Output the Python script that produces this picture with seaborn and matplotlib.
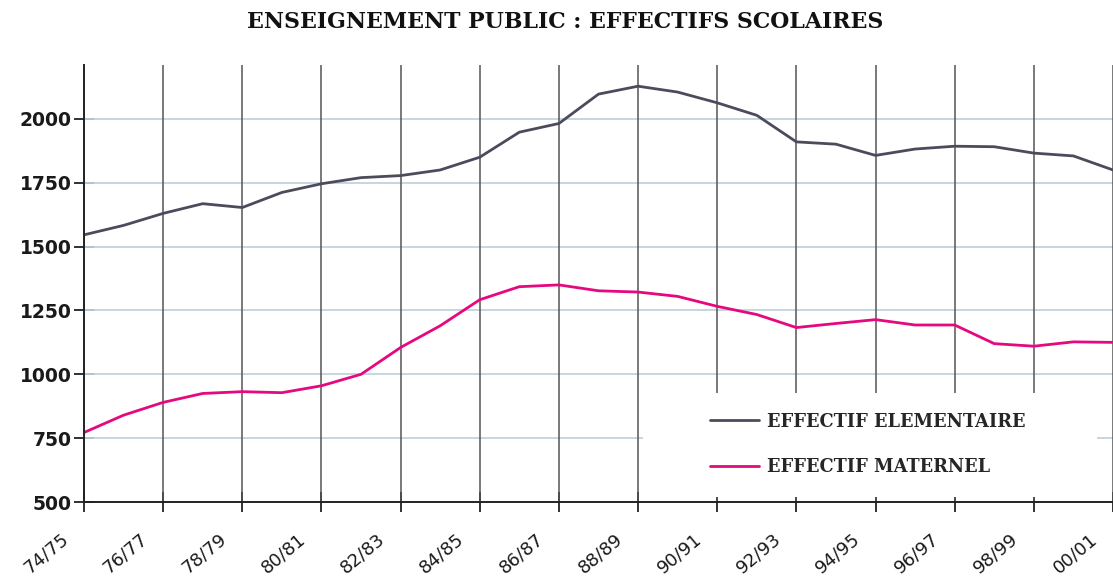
import matplotlib
matplotlib.use("Agg")
import matplotlib.pyplot as plt
import matplotlib.transforms as mtransforms
from matplotlib.patches import Rectangle
import pandas as pd
import seaborn as sns

# School years, one point per year
years = ["74/75", "75/76", "76/77", "77/78", "78/79", "79/80", "80/81", "81/82",
         "82/83", "83/84", "84/85", "85/86", "86/87", "87/88", "88/89", "89/90",
         "90/91", "91/92", "92/93", "93/94", "94/95", "95/96", "96/97", "97/98",
         "98/99", "99/00", "00/01"]

# Pupil counts
elementaire = [1546, 1583, 1630, 1668, 1653, 1712, 1746, 1770, 1778, 1800,
               1850, 1948, 1982, 2097, 2128, 2105, 2063, 2014, 1910, 1901,
               1857, 1882, 1893, 1891, 1866, 1855, 1800]
maternel = [772, 840, 890, 925, 932, 928, 955, 1000, 1105, 1190,
            1292, 1343, 1350, 1327, 1322, 1305, 1266, 1234, 1183, 1199,
            1214, 1193, 1193, 1120, 1110, 1127, 1125]

series_names = ["EFFECTIF ELEMENTAIRE", "EFFECTIF MATERNEL"]
series_colors = ["#4c4b5c", "#e5087f"]
tick_labels = years[::2]
y_ticks = [500, 750, 1000, 1250, 1500, 1750, 2000]
title = "ENSEIGNEMENT PUBLIC : EFFECTIFS SCOLAIRES"

df = pd.DataFrame({
    "pos": list(range(len(years))) * 2,
    "valeur": elementaire + maternel,
    "serie": [series_names[0]] * len(years) + [series_names[1]] * len(years),
})

sns.set_theme(style="white")
plt.rcParams["font.family"] = ["DejaVu Sans"]

fig = plt.figure(figsize=(11.13, 5.79), dpi=100)
W, H = 1113, 579
left, right, bottom, top = 84, 1113, 502, 65
ax = fig.add_axes([left / W, (H - bottom) / H, (right - left) / W, (bottom - top) / H])

sns.lineplot(data=df, x="pos", y="valeur", hue="serie", hue_order=series_names,
             palette=series_colors, linewidth=2.0, ax=ax, legend=True, zorder=3)

ax.set_xlim(0, 25.92)
ax.set_ylim(500, 2211)
ax.set_xlabel("")
ax.set_ylabel("")

# grid: dark verticals every two years, light horizontals every 250
for i in range(0, len(years), 2):
    ax.axvline(i, color="#555555", linewidth=1.1, zorder=1)
for v in y_ticks[1:]:
    ax.axhline(v, color="#c2d3dd", linewidth=1.3, zorder=0.8)

# blank panel behind the legend
ax.add_patch(Rectangle((0.543, 0.011), 0.441, 0.238, transform=ax.transAxes,
                       facecolor="white", edgecolor="none", zorder=2))

for s in ["top", "right"]:
    ax.spines[s].set_visible(False)
for s in ["left", "bottom"]:
    ax.spines[s].set_color("#222222")
    ax.spines[s].set_linewidth(1.4)
    ax.spines[s].set_zorder(4)

ax.set_yticks(y_ticks)
ax.set_yticklabels([str(v) for v in y_ticks], fontsize=13.5, fontweight="bold",
                   color="#1a1a1a")
ax.set_xticks(list(range(0, len(years), 2)))
ax.set_xticklabels(tick_labels, fontsize=13, rotation=40, ha="center",
                   va="center", color="#1a1a1a")
ax.tick_params(axis="both", direction="inout", length=14, width=1.3,
               color="#222222")
ax.tick_params(axis="y", pad=2)
ax.tick_params(axis="x", pad=0)
ax.yaxis.set_ticks_position("left")
ax.xaxis.set_ticks_position("bottom")

offset = mtransforms.ScaledTranslation(-0.38, -0.42, fig.dpi_scale_trans)
for lab in ax.get_xticklabels():
    lab.set_transform(lab.get_transform() + offset)

handles, labels = ax.get_legend_handles_labels()
leg = ax.legend(handles, labels, loc="upper left", bbox_to_anchor=(0.6, 0.225),
                frameon=False, borderpad=0, handlelength=2.75, handletextpad=0.45,
                labelspacing=1.55,
                prop={"family": "DejaVu Serif", "weight": "bold", "size": 12.8})
for line in leg.get_lines():
    line.set_linewidth(2.0)

fig.text(565 / W, 1 - 22 / H, title, ha="center", va="center",
         fontsize=15.8, fontweight="bold", family="DejaVu Serif", color="#111111")

fig.savefig("out.png", dpi=100)
